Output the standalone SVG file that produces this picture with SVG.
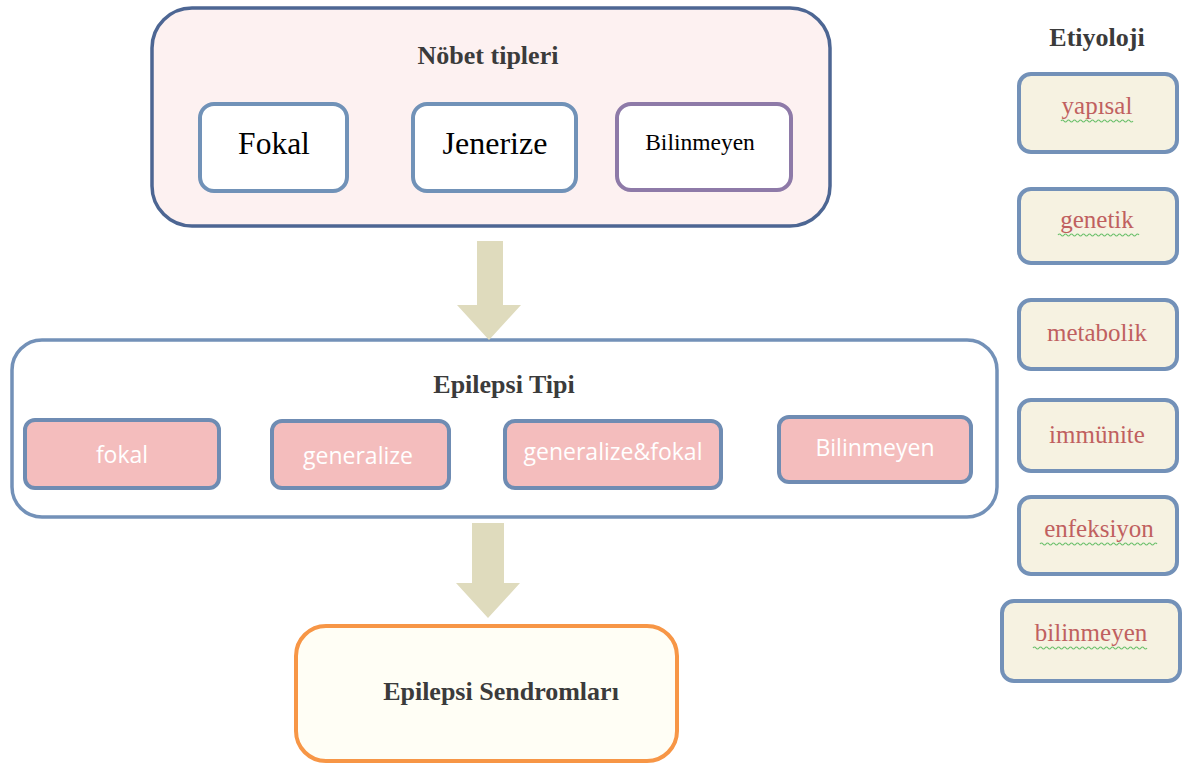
<svg xmlns="http://www.w3.org/2000/svg" width="1183" height="766" viewBox="0 0 1183 766">
<style>
.title{font-family:"Liberation Serif","Times New Roman",serif;font-weight:bold;font-size:26px;fill:#3b3b3b;text-anchor:middle}
.serif{font-family:"Liberation Serif","Times New Roman",serif;fill:#000;text-anchor:middle}
.inner{fill:#ffffff;stroke:#7192b8;stroke-width:4}
.pink{fill:#f4bdbd;stroke:#6f8cb3;stroke-width:4}
.pinkt{font-family:"Open Sans","Liberation Sans",sans-serif;font-size:23px;fill:#ffffff;text-anchor:middle}
.cream{fill:#f6f2e1;stroke:#7391b8;stroke-width:4}
.et{font-family:"Liberation Serif","Times New Roman",serif;font-size:25px;fill:#c0605f;text-anchor:middle}
.sq{fill:none;stroke:#6cc06c;stroke-width:1.2}
.arrow{fill:#dfdbbd}
</style>
<rect width="1183" height="766" fill="#ffffff"/>
<g id="nobet-tipleri">
<rect x="152" y="8" width="678" height="218" rx="40" fill="#fdf1f1" stroke="#4d6693" stroke-width="3.5"/>
<text class="title" x="488" y="64">Nöbet tipleri</text>
</g>
<g id="fokal-n"><rect class="inner" x="200" y="104" width="147" height="87" rx="14"/><text class="serif" x="274" y="154" font-size="31.5">Fokal</text></g>
<g id="jenerize-n"><rect class="inner" x="413" y="104" width="163" height="87" rx="14"/><text class="serif" x="495" y="154" font-size="32">Jenerize</text></g>
<g id="bilinmeyen-n"><rect x="617" y="104" width="174" height="86" rx="14" fill="#ffffff" stroke="#8e7aa8" stroke-width="4"/><text class="serif" x="700" y="150" font-size="23.5">Bilinmeyen</text></g>

<g id="epilepsi-tipi">
<rect x="12" y="340" width="985" height="177" rx="30" fill="#ffffff" stroke="#7391b8" stroke-width="3.5"/>
<text class="title" x="504" y="393" font-size="27">Epilepsi Tipi</text>
</g>
<g id="fokal-e"><rect class="pink" x="25" y="420" width="194" height="68" rx="10"/><text class="pinkt" x="122" y="463">fokal</text></g>
<g id="generalize-e"><rect class="pink" x="272" y="421" width="177" height="67" rx="10"/><text class="pinkt" x="358" y="464">generalize</text></g>
<g id="genfokal-e"><rect class="pink" x="505" y="421" width="216" height="67" rx="10"/><text class="pinkt" x="613" y="460">generalize&amp;fokal</text></g>
<g id="bilinmeyen-e"><rect class="pink" x="779" y="417" width="192" height="65" rx="10"/><text class="pinkt" x="875" y="456">Bilinmeyen</text></g>

<g id="sendromlar">
<rect x="296" y="626" width="381" height="135" rx="30" fill="#fffef5" stroke="#f79646" stroke-width="4"/>
<text class="title" x="501" y="700" font-size="27">Epilepsi Sendromları</text>
</g>

<g id="etiyoloji">
<text class="title" x="1097" y="46">Etiyoloji</text>
</g>
<g id="yapisal"><rect class="cream" x="1019" y="74" width="158" height="78" rx="12"/><text class="et" x="1097" y="114">yapısal</text>
<path class="sq" d="M1061 121 q1.5 -2 3 0 t3 0 t3 0 t3 0 t3 0 t3 0 t3 0 t3 0 t3 0 t3 0 t3 0 t3 0 t3 0 t3 0 t3 0 t3 0 t3 0 t3 0 t3 0 t3 0 t3 0 t3 0 t3 0 t3 0"/></g>
<g id="genetik"><rect class="cream" x="1019" y="189" width="158" height="74" rx="12"/><text class="et" x="1097" y="228">genetik</text>
<path class="sq" d="M1058 235 q1.5 -2 3 0 t3 0 t3 0 t3 0 t3 0 t3 0 t3 0 t3 0 t3 0 t3 0 t3 0 t3 0 t3 0 t3 0 t3 0 t3 0 t3 0 t3 0 t3 0 t3 0 t3 0 t3 0 t3 0 t3 0 t3 0 t3 0 t3 0"/></g>
<g id="metabolik"><rect class="cream" x="1019" y="300" width="158" height="69" rx="12"/><text class="et" x="1097" y="341">metabolik</text></g>
<g id="immunite"><rect class="cream" x="1019" y="400" width="158" height="71" rx="12"/><text class="et" x="1097" y="443">immünite</text></g>
<g id="enfeksiyon"><rect class="cream" x="1019" y="497" width="158" height="77" rx="12"/><text class="et" x="1099" y="537">enfeksiyon</text>
<path class="sq" d="M1040 544 q1.5 -2 3 0 t3 0 t3 0 t3 0 t3 0 t3 0 t3 0 t3 0 t3 0 t3 0 t3 0 t3 0 t3 0 t3 0 t3 0 t3 0 t3 0 t3 0 t3 0 t3 0 t3 0 t3 0 t3 0 t3 0 t3 0 t3 0 t3 0 t3 0 t3 0 t3 0 t3 0 t3 0 t3 0 t3 0 t3 0 t3 0 t3 0 t3 0 t3 0"/></g>
<g id="bilinmeyen-et"><rect class="cream" x="1002" y="601" width="178" height="80" rx="12"/><text class="et" x="1091" y="641">bilinmeyen</text>
<path class="sq" d="M1033 648 q1.5 -2 3 0 t3 0 t3 0 t3 0 t3 0 t3 0 t3 0 t3 0 t3 0 t3 0 t3 0 t3 0 t3 0 t3 0 t3 0 t3 0 t3 0 t3 0 t3 0 t3 0 t3 0 t3 0 t3 0 t3 0 t3 0 t3 0 t3 0 t3 0 t3 0 t3 0 t3 0 t3 0 t3 0 t3 0 t3 0 t3 0 t3 0 t3 0"/></g>

<g id="connectors">
<polygon class="arrow" points="477,241 503,241 503,305 521,305 489,340 457,305 477,305"/>
<polygon class="arrow" points="472,523 504,523 504,583 520,583 488,618 456,583 472,583"/>
</g>
</svg>
